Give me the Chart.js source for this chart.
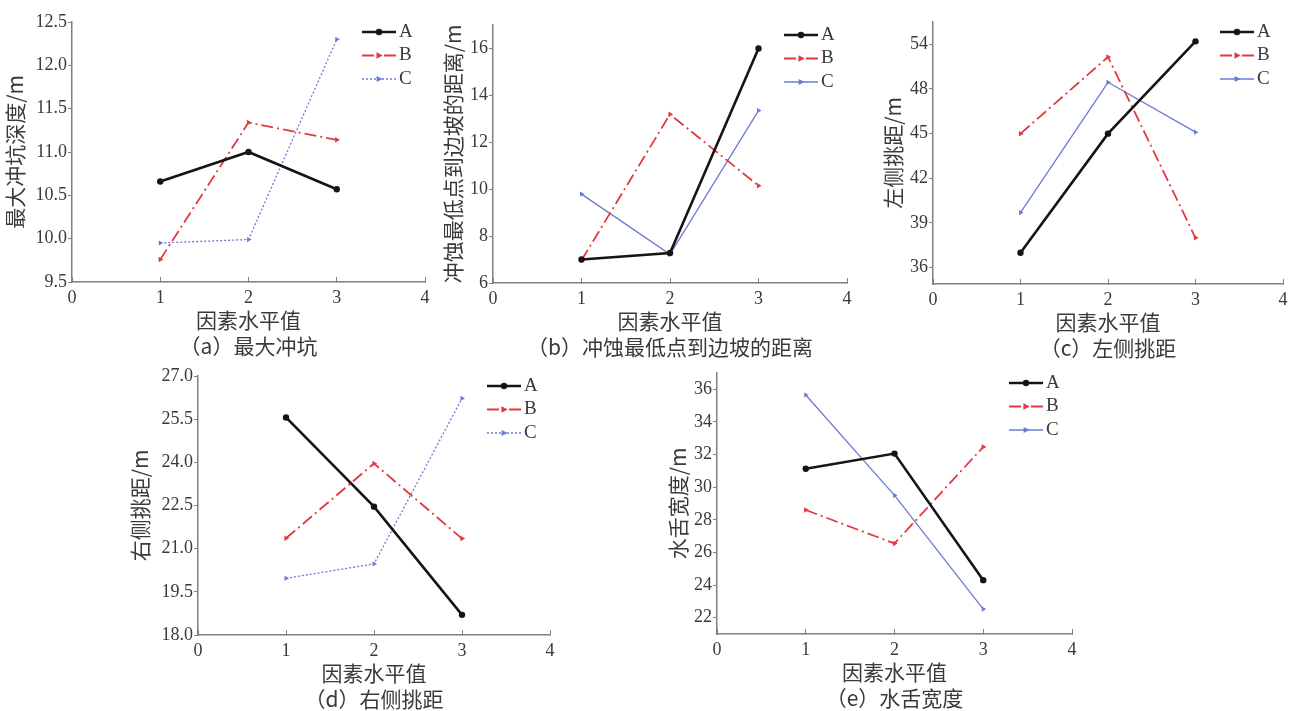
<!DOCTYPE html>
<html>
<head>
<meta charset="utf-8">
<script src="https://cdn.jsdelivr.net/npm/chart.js@4.4.1/dist/chart.umd.min.js"></script>
<style>
html, body { margin: 0; padding: 0; background: #fff; width: 1297px; height: 711px; overflow: hidden; }
canvas { position: absolute; }
</style>
</head>
<body>
<script>
// factor levels and series names shared by all five panels
const levels = [1, 2, 3];
const seriesNames = ['A', 'B', 'C'];
const xTicks = ['0', '1', '2', '3', '4'];

// (a) max scour depth
const depthA = [10.66, 11.00, 10.57];
const depthB = [9.76, 11.34, 11.14];
const depthC = [9.95, 9.99, 12.30];
const depthTicks = ['9.5', '10.0', '10.5', '11.0', '11.5', '12.0', '12.5'];

// (b) distance from scour bottom to slope
const distA = [7.00, 7.28, 16.00];
const distB = [6.97, 13.19, 10.15];
const distC = [9.79, 7.22, 13.35];
const distTicks = ['6', '8', '10', '12', '14', '16'];

// (c) left throw distance - ticks are evenly spaced, the top one is printed "54"
const leftA = [37.0, 45.0, 51.2];
const leftB = [45.0, 50.15, 38.0];
const leftC = [39.7, 48.45, 45.1];
const leftTickValues = [36, 39, 42, 45, 48, 51];
const leftTicks = ['36', '39', '42', '45', '48', '54'];

// (d) right throw distance
const rightA = [25.56, 22.46, 18.70];
const rightB = [21.36, 23.96, 21.35];
const rightC = [19.97, 20.47, 26.22];
const rightTicks = ['18.0', '19.5', '21.0', '22.5', '24.0', '25.5', '27.0'];

// (e) jet width
const widthA = [31.13, 32.06, 24.30];
const widthB = [28.60, 26.55, 32.47];
const widthC = [35.65, 29.50, 22.53];
const widthTicks = ['22', '24', '26', '28', '30', '32', '34', '36'];

const textColor = '#3a3a3a';
const axisColor = '#808080';
const tickFont = { family: '"Liberation Serif", serif', size: 18 };
const cjkFont = { family: '"Noto Sans CJK SC", sans-serif', size: 21, lineHeight: 1.24 };

// plot box of each panel in page pixels: left, right, top, bottom
const panels = [
    { box: [72, 425, 22, 282], min: 9.5, max: 12.5, ticks: depthTicks, series: [depthA, depthB, depthC],
      yTitle: '最大冲坑深度/m', caption: '（a）最大冲坑', yOff: 57, cDash: [2, 2] },
    { box: [493, 847, 25, 283], min: 6, max: 17, ticks: distTicks, series: [distA, distB, distC],
      yTitle: '冲蚀最低点到边坡的距离/m', caption: '（b）冲蚀最低点到边坡的距离', yOff: 40, cDash: [] },
    { box: [933, 1283, 22, 284], min: 34.9, max: 52.5, ticks: leftTicks, values: leftTickValues,
      series: [leftA, leftB, leftC],
      yTitle: '左侧挑距/m', caption: '（c）左侧挑距', yOff: 40, cDash: [] },
    { box: [198, 550, 376, 635], min: 18, max: 27, ticks: rightTicks, series: [rightA, rightB, rightC],
      yTitle: '右侧挑距/m', caption: '（d）右侧挑距', yOff: 58, cDash: [2, 2] },
    { box: [717, 1072, 373, 634], min: 21, max: 37, ticks: widthTicks, series: [widthA, widthB, widthC],
      yTitle: '水舌宽度/m', caption: '（e）水舌宽度', yOff: 39, cDash: [] }
];

// marker shape drawn in the legend, same look as the chart points
function drawMarker(ctx, style, r, x, y) {
    ctx.beginPath();
    if (style === 'circle') {
        ctx.arc(x, y, r, 0, Math.PI * 2);
    } else {
        ctx.moveTo(x + r * 1.2, y);
        ctx.lineTo(x - r * 0.8, y - r);
        ctx.lineTo(x - r * 0.8, y + r);
        ctx.closePath();
    }
    ctx.fill();
}

const innerLegend = {
    id: 'innerLegend',
    afterDatasetsDraw(chart) {
        const { ctx, chartArea } = chart;
        chart.data.datasets.forEach((d, i) => {
            const y = chartArea.top + 10 + i * 23.5;
            const x0 = chartArea.right - 63;
            const x1 = chartArea.right - 29;
            ctx.save();
            ctx.strokeStyle = d.borderColor;
            ctx.lineWidth = d.borderWidth;
            ctx.setLineDash(d.borderDash);
            ctx.beginPath();
            ctx.moveTo(x0, y);
            ctx.lineTo(x1, y);
            ctx.stroke();
            ctx.setLineDash([]);
            ctx.fillStyle = d.borderColor;
            drawMarker(ctx, d.pointStyle, d.pointRadius, (x0 + x1) / 2, y);
            ctx.fillStyle = textColor;
            ctx.font = '19px "Liberation Serif", serif';
            ctx.textBaseline = 'middle';
            ctx.fillText(d.label, x1 + 3, y);
            ctx.restore();
        });
    }
};

function makeChart(p) {
    const pad = { left: 75, top: 12, right: 15, bottom: 78 };
    const [L, R, T, B] = p.box;
    const w = R - L + pad.left + pad.right;
    const h = B - T + pad.top + pad.bottom;
    const cv = document.createElement('canvas');
    cv.width = w;
    cv.height = h;
    cv.style.left = (L - pad.left) + 'px';
    cv.style.top = (T - pad.top) + 'px';
    cv.style.width = w + 'px';
    cv.style.height = h + 'px';
    document.body.appendChild(cv);

    const styles = [
        { borderColor: '#151515', borderWidth: 2.6, borderDash: [], pointStyle: 'circle', pointRadius: 3.2 },
        { borderColor: '#e23a40', borderWidth: 1.8, borderDash: [12, 4, 2, 4], pointStyle: 'triangle', pointRadius: 3.2, rotation: 90 },
        { borderColor: '#6a7bd4', borderWidth: 1.3, borderDash: p.cDash, pointStyle: 'triangle', pointRadius: 3, rotation: 90 }
    ];

    const datasets = p.series.map((vals, i) => ({
        label: seriesNames[i],
        data: levels.map((x, k) => ({ x: x, y: vals[k] })),
        backgroundColor: styles[i].borderColor,
        pointBorderWidth: 0,
        tension: 0,
        ...styles[i]
    }));

    const lh = cjkFont.size * cjkFont.lineHeight;
    const yValues = p.values || p.ticks.map(t => parseFloat(t));

    new Chart(cv, {
        type: 'line',
        data: { datasets: datasets },
        options: {
            responsive: false,
            animation: false,
            devicePixelRatio: 1,
            layout: { padding: { top: pad.top, right: pad.right, left: 0, bottom: 0 } },
            plugins: { legend: { display: false }, tooltip: { enabled: false } },
            scales: {
                x: {
                    type: 'linear',
                    min: 0,
                    max: 4,
                    afterBuildTicks: s => { s.ticks = xTicks.map(t => ({ value: parseFloat(t) })); },
                    afterFit: s => { s.height = pad.bottom; },
                    // tick marks point up into the plot, as in the source figure
                    grid: { drawOnChartArea: false, drawTicks: true, tickLength: -5, color: axisColor },
                    border: { color: axisColor, width: 1.5 },
                    ticks: { font: tickFont, color: textColor, padding: 10, maxRotation: 0,
                             callback: (v, i) => xTicks[i] },
                    title: { display: true, text: ['因素水平值', p.caption], font: cjkFont, color: textColor,
                             padding: { top: 0, bottom: 1 } }
                },
                y: {
                    type: 'linear',
                    min: p.min,
                    max: p.max,
                    afterBuildTicks: s => { s.ticks = yValues.map(v => ({ value: v })); },
                    afterFit: s => { s.width = pad.left; },
                    grid: { drawOnChartArea: false, drawTicks: true, tickLength: 4, color: axisColor },
                    border: { color: axisColor, width: 1.5 },
                    ticks: { font: tickFont, color: textColor, padding: 1,
                             callback: (v, i) => p.ticks[i] },
                    title: { display: true, text: p.yTitle, font: cjkFont, color: textColor,
                             padding: { top: pad.left - p.yOff - lh / 2, bottom: 0 } }
                }
            }
        },
        plugins: [innerLegend]
    });
}

panels.forEach(makeChart);
</script>
</body>
</html>
